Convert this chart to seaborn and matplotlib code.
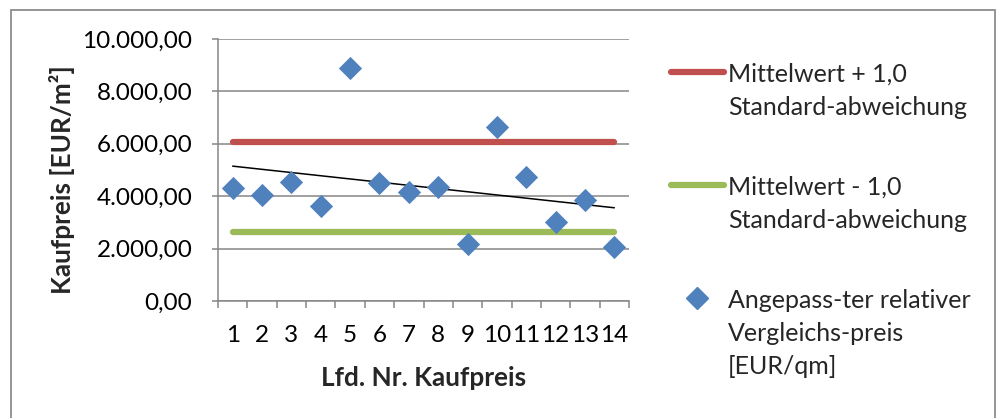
import numpy as np
import pandas as pd
import matplotlib
matplotlib.use("Agg")
import matplotlib.pyplot as plt
from matplotlib.lines import Line2D
from matplotlib.patches import Rectangle
from matplotlib.ticker import FuncFormatter, FixedLocator
import seaborn as sns

# ---- data ----
lfd_nr = list(range(1, 15))
preis = [4324, 4046, 4530, 3638, 8905, 4492, 4173, 4364, 2163, 6628, 4746, 3028, 3855, 2048]
upper = 6081   # Mittelwert + 1,0 Standardabweichung
lower = 2634   # Mittelwert - 1,0 Standardabweichung
y_ticks = [0, 2000, 4000, 6000, 8000, 10000]

lab_upper = ["Mittelwert + 1,0", "Standard-abweichung"]
lab_lower = ["Mittelwert - 1,0", "Standard-abweichung"]
lab_pts = ["Angepass-ter relativer", "Vergleichs-preis", "[EUR/qm]"]

df = pd.DataFrame({"nr": lfd_nr, "preis": preis,
                   "upper": [upper] * len(lfd_nr), "lower": [lower] * len(lfd_nr)})

sns.set_theme(style="white")
plt.rcParams["font.family"] = ["Lato", "DejaVu Sans"]

RED = "#C0504D"
GREEN = "#9BBB59"
BLUE = "#4F81BD"
GRID = "#868686"
FS = 17.5
LAB_FS = 18.8

W, H = 1000, 418
fig = plt.figure(figsize=(W / 100, H / 100), dpi=100)
ax = fig.add_axes([218 / W, 1 - 301 / H, (629 - 218) / W, (301 - 39) / H])

ax.set_axisbelow(True)
ax.yaxis.grid(True, color=GRID, linewidth=1.1)

sns.lineplot(data=df, x="nr", y="upper", ax=ax, color=RED, linewidth=4.5,
             solid_capstyle="round", legend=False)
sns.lineplot(data=df, x="nr", y="lower", ax=ax, color=GREEN, linewidth=4.5,
             solid_capstyle="round", legend=False)
sns.regplot(data=df, x="nr", y="preis", ax=ax, scatter=False, ci=None,
            color="black", line_kws={"linewidth": 1.1})
sns.scatterplot(data=df, x="nr", y="preis", ax=ax, marker="D", s=140,
                color=BLUE, edgecolor=BLUE, linewidth=0, zorder=5, legend=False)

ax.set_xlim(0.5, 14.5)
ax.set_ylim(0, 10000)
ax.set_yticks(y_ticks)
ax.yaxis.set_major_formatter(FuncFormatter(
    lambda v, p: f"{v:,.2f}".replace(",", "X").replace(".", ",").replace("X", ".")))
ax.set_xticks(lfd_nr)
ax.set_xticklabels([str(n) for n in lfd_nr])
ax.xaxis.set_minor_locator(FixedLocator(np.arange(0.5, 15, 1)))

ax.tick_params(axis="x", which="major", length=0, pad=17, labelsize=FS, colors="black")
ax.tick_params(axis="x", which="minor", length=5, width=1.1, color=GRID, direction="out", bottom=True)
ax.tick_params(axis="y", which="major", length=4.5, width=1.1, color=GRID, pad=14,
               labelsize=FS, labelcolor="black", left=True)

for s in ["top", "right"]:
    ax.spines[s].set_visible(False)
for s in ["left", "bottom"]:
    ax.spines[s].set_color(GRID)
    ax.spines[s].set_linewidth(1.1)

ax.set_xlabel("Lfd. Nr. Kaufpreis", fontsize=LAB_FS, fontweight="bold", labelpad=15)
ax.set_ylabel("Kaufpreis [EUR/m²]", fontsize=LAB_FS, fontweight="bold")
ax.yaxis.set_label_coords((75 - 218) / 411, (301 - 180) / 262)

# ---- legend (handles aligned with the first text line, as in the reference) ----
def fx(px):
    return px / W

def fy(py):
    return 1 - py / H

LFS = 18
line_h = 33.5
entries = [(lab_upper, 72, "line", RED), (lab_lower, 185, "line", GREEN), (lab_pts, 298, "marker", BLUE)]
for labels, y0, kind, col in entries:
    if kind == "line":
        fig.add_artist(Line2D([fx(671), fx(724)], [fy(y0), fy(y0)], transform=fig.transFigure,
                              color=col, linewidth=4.5, solid_capstyle="round"))
    else:
        fig.add_artist(Line2D([fx(697)], [fy(y0)], transform=fig.transFigure, color=col,
                              marker="D", markersize=11, linestyle="none"))
    for i, lab in enumerate(labels):
        fig.text(fx(728), fy(y0 + i * line_h), lab, fontsize=LFS, ha="left", va="center_baseline")

fig.patches.append(Rectangle((fx(11), -0.05), fx(995) - fx(11), 1.05 - 10 / H,
                             transform=fig.transFigure, fill=False,
                             edgecolor="#8C8C8C", linewidth=1.3))

fig.savefig("out.png", dpi=100, facecolor="white")
